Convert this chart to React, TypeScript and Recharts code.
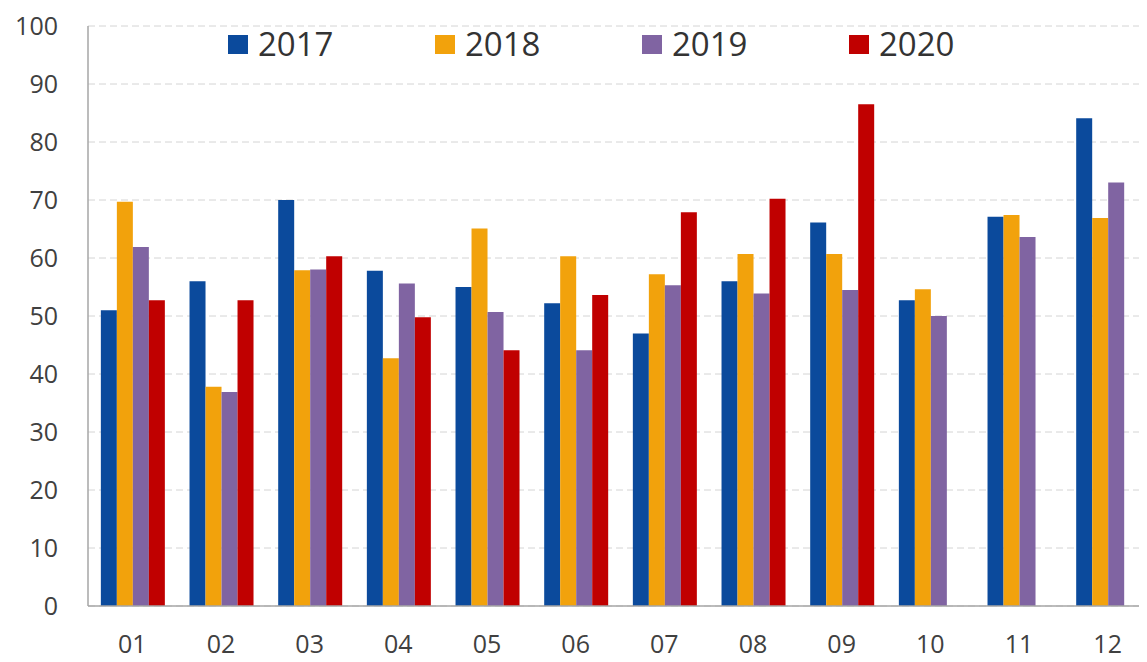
import React from "react";
import {
  BarChart,
  Bar,
  XAxis,
  YAxis,
  CartesianGrid,
  Legend,
} from "recharts";

const MONTHS = ["01", "02", "03", "04", "05", "06", "07", "08", "09", "10", "11", "12"];
const Y2017 = [51, 56, 70, 57.8, 55, 52.2, 47, 56, 66.1, 52.7, 67.1, 84.1];
const Y2018 = [69.7, 37.8, 57.9, 42.7, 65.1, 60.3, 57.2, 60.7, 60.7, 54.6, 67.4, 66.9];
const Y2019 = [61.9, 36.9, 58, 55.6, 50.7, 44.1, 55.3, 53.9, 54.5, 50, 63.6, 73];
const Y2020 = [52.7, 52.7, 60.3, 49.8, 44.1, 53.6, 67.9, 70.2, 86.5, null, null, null];
const Y_TICKS = [0, 10, 20, 30, 40, 50, 60, 70, 80, 90, 100];

const SERIES = [
  { key: "2017", color: "#0b4a9c" },
  { key: "2018", color: "#f2a20c" },
  { key: "2019", color: "#8064a2" },
  { key: "2020", color: "#c00000" },
];

const data = MONTHS.map((m, i) => ({
  month: m,
  "2017": Y2017[i],
  "2018": Y2018[i],
  "2019": Y2019[i],
  "2020": Y2020[i],
}));

const FONT = "'Open Sans', 'Noto Sans', sans-serif";

function TopLegend() {
  return (
    <div style={{ display: "flex", fontFamily: FONT }}>
      {SERIES.map((s) => (
        <div
          key={s.key}
          style={{ display: "flex", alignItems: "center", width: 207 }}
        >
          <span
            style={{
              display: "inline-block",
              width: 20,
              height: 19,
              background: s.color,
              marginRight: 10,
            }}
          />
          <span style={{ fontSize: 33, color: "#333", lineHeight: "40px" }}>
            {s.key}
          </span>
        </div>
      ))}
    </div>
  );
}

export default function App() {
  return (
    <div
      style={{
        position: "relative",
        width: 1138,
        height: 654,
        overflow: "hidden",
        background: "#fff",
      }}
    >
      <BarChart
        width={1144}
        height={654}
        data={data}
        margin={{ top: 18, right: 0, bottom: 0, left: 0 }}
        barCategoryGap="14.5%"
        barGap={0}
      >
        <CartesianGrid
          vertical={false}
          stroke="#d4d4d4"
          strokeDasharray="7 4"
        />
        <XAxis
          dataKey="month"
          height={56}
          tickLine={false}
          tickSize={0}
          tickMargin={29}
          axisLine={{ stroke: "#a6a6a6", strokeWidth: 1.5 }}
          tick={{ fill: "#404040", fontSize: 25, fontFamily: FONT }}
          interval={0}
        />
        <YAxis
          width={80}
          domain={[0, 100]}
          ticks={Y_TICKS}
          interval={0}
          tickLine={false}
          tickSize={0}
          tickMargin={30}
          axisLine={{ stroke: "#a6a6a6", strokeWidth: 1.5 }}
          tick={{ fill: "#404040", fontSize: 25, fontFamily: FONT }}
        />
        <Legend
          layout="horizontal"
          verticalAlign="middle"
          align="center"
          content={() => <TopLegend />}
          wrapperStyle={{ top: 16, left: 220, width: 900 }}
        />
        {SERIES.map((s) => (
          <Bar
            key={s.key}
            dataKey={s.key}
            fill={s.color}
            isAnimationActive={false}
          />
        ))}
      </BarChart>
    </div>
  );
}
